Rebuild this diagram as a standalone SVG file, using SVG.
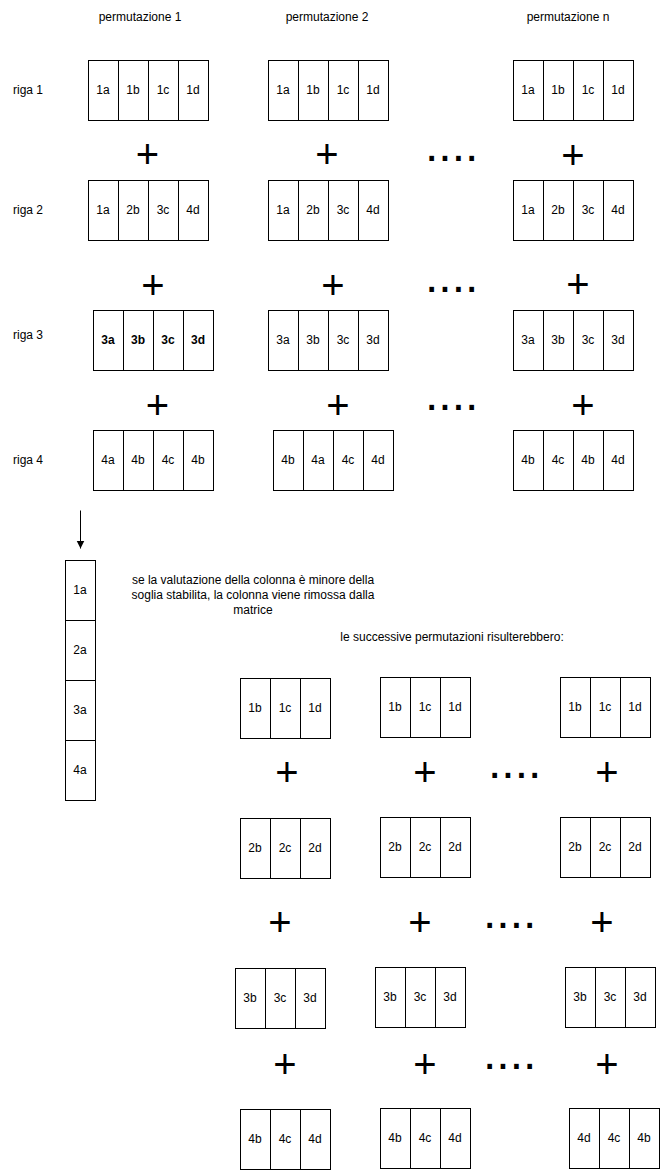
<svg xmlns="http://www.w3.org/2000/svg" width="666" height="1170" viewBox="0 0 666 1170">
<defs>
<style>
.c{fill:#fff;stroke:#000;stroke-width:1}
text{font-family:"Liberation Sans",Arial,Helvetica,sans-serif;fill:#000}
.t{font-size:12px;text-anchor:middle}
.b{font-weight:bold}
.p{font-size:40px;text-anchor:middle}
.d{font-size:48px}
.l{font-size:12px;text-anchor:middle}
</style>
<marker id="ah" markerWidth="10" markerHeight="10" refX="8" refY="4" orient="auto" markerUnits="userSpaceOnUse">
<path d="M0,0 L8,4 L0,8 Z" fill="#000"/>
</marker>
</defs>
<rect width="666" height="1170" fill="#fff"/>
<g id="headers">
<text class="l" x="140" y="21">permutazione 1</text>
<text class="l" x="327" y="21">permutazione 2</text>
<text class="l" x="568" y="21">permutazione n</text>
<text class="l" x="28" y="94">riga 1</text>
<text class="l" x="28" y="214">riga 2</text>
<text class="l" x="28" y="339">riga 3</text>
<text class="l" x="28" y="464">riga 4</text>
</g>
<g transform="translate(0.5,0.5)">
<!-- row 1 -->
<g id="r1p1"><rect class="c" x="88" y="60" width="30" height="60"/><rect class="c" x="118" y="60" width="30" height="60"/><rect class="c" x="148" y="60" width="30" height="60"/><rect class="c" x="178" y="60" width="30" height="60"/></g>
<g id="r1p2"><rect class="c" x="268" y="60" width="30" height="60"/><rect class="c" x="298" y="60" width="30" height="60"/><rect class="c" x="328" y="60" width="30" height="60"/><rect class="c" x="358" y="60" width="30" height="60"/></g>
<g id="r1pn"><rect class="c" x="513" y="60" width="30" height="60"/><rect class="c" x="543" y="60" width="30" height="60"/><rect class="c" x="573" y="60" width="30" height="60"/><rect class="c" x="603" y="60" width="30" height="60"/></g>
<!-- row 2 -->
<g id="r2p1"><rect class="c" x="88" y="180" width="30" height="60"/><rect class="c" x="118" y="180" width="30" height="60"/><rect class="c" x="148" y="180" width="30" height="60"/><rect class="c" x="178" y="180" width="30" height="60"/></g>
<g id="r2p2"><rect class="c" x="268" y="180" width="30" height="60"/><rect class="c" x="298" y="180" width="30" height="60"/><rect class="c" x="328" y="180" width="30" height="60"/><rect class="c" x="358" y="180" width="30" height="60"/></g>
<g id="r2pn"><rect class="c" x="513" y="180" width="30" height="60"/><rect class="c" x="543" y="180" width="30" height="60"/><rect class="c" x="573" y="180" width="30" height="60"/><rect class="c" x="603" y="180" width="30" height="60"/></g>
<!-- row 3 -->
<g id="r3p1"><rect class="c" x="93" y="310" width="30" height="60"/><rect class="c" x="123" y="310" width="30" height="60"/><rect class="c" x="153" y="310" width="30" height="60"/><rect class="c" x="183" y="310" width="30" height="60"/></g>
<g id="r3p2"><rect class="c" x="268" y="310" width="30" height="60"/><rect class="c" x="298" y="310" width="30" height="60"/><rect class="c" x="328" y="310" width="30" height="60"/><rect class="c" x="358" y="310" width="30" height="60"/></g>
<g id="r3pn"><rect class="c" x="513" y="310" width="30" height="60"/><rect class="c" x="543" y="310" width="30" height="60"/><rect class="c" x="573" y="310" width="30" height="60"/><rect class="c" x="603" y="310" width="30" height="60"/></g>
<!-- row 4 -->
<g id="r4p1"><rect class="c" x="93" y="430" width="30" height="60"/><rect class="c" x="123" y="430" width="30" height="60"/><rect class="c" x="153" y="430" width="30" height="60"/><rect class="c" x="183" y="430" width="30" height="60"/></g>
<g id="r4p2"><rect class="c" x="273" y="430" width="30" height="60"/><rect class="c" x="303" y="430" width="30" height="60"/><rect class="c" x="333" y="430" width="30" height="60"/><rect class="c" x="363" y="430" width="30" height="60"/></g>
<g id="r4pn"><rect class="c" x="513" y="430" width="30" height="60"/><rect class="c" x="543" y="430" width="30" height="60"/><rect class="c" x="573" y="430" width="30" height="60"/><rect class="c" x="603" y="430" width="30" height="60"/></g>
<!-- column -->
<g id="col"><rect class="c" x="65" y="560" width="30" height="60"/><rect class="c" x="65" y="620" width="30" height="60"/><rect class="c" x="65" y="680" width="30" height="60"/><rect class="c" x="65" y="740" width="30" height="60"/></g>
<!-- bottom A -->
<g id="bAp1"><rect class="c" x="240" y="678" width="30" height="60"/><rect class="c" x="270" y="678" width="30" height="60"/><rect class="c" x="300" y="678" width="30" height="60"/></g>
<g id="bAp2"><rect class="c" x="380" y="677" width="30" height="60"/><rect class="c" x="410" y="677" width="30" height="60"/><rect class="c" x="440" y="677" width="30" height="60"/></g>
<g id="bApn"><rect class="c" x="560" y="677" width="30" height="60"/><rect class="c" x="590" y="677" width="30" height="60"/><rect class="c" x="620" y="677" width="30" height="60"/></g>
<!-- bottom B -->
<g id="bBp1"><rect class="c" x="240" y="818" width="30" height="60"/><rect class="c" x="270" y="818" width="30" height="60"/><rect class="c" x="300" y="818" width="30" height="60"/></g>
<g id="bBp2"><rect class="c" x="380" y="817" width="30" height="60"/><rect class="c" x="410" y="817" width="30" height="60"/><rect class="c" x="440" y="817" width="30" height="60"/></g>
<g id="bBpn"><rect class="c" x="560" y="817" width="30" height="60"/><rect class="c" x="590" y="817" width="30" height="60"/><rect class="c" x="620" y="817" width="30" height="60"/></g>
<!-- bottom C -->
<g id="bCp1"><rect class="c" x="235" y="968" width="30" height="60"/><rect class="c" x="265" y="968" width="30" height="60"/><rect class="c" x="295" y="968" width="30" height="60"/></g>
<g id="bCp2"><rect class="c" x="375" y="967" width="30" height="60"/><rect class="c" x="405" y="967" width="30" height="60"/><rect class="c" x="435" y="967" width="30" height="60"/></g>
<g id="bCpn"><rect class="c" x="565" y="967" width="30" height="60"/><rect class="c" x="595" y="967" width="30" height="60"/><rect class="c" x="625" y="967" width="30" height="60"/></g>
<!-- bottom D -->
<g id="bDp1"><rect class="c" x="240" y="1109" width="30" height="60"/><rect class="c" x="270" y="1109" width="30" height="60"/><rect class="c" x="300" y="1109" width="30" height="60"/></g>
<g id="bDp2"><rect class="c" x="380" y="1108" width="30" height="60"/><rect class="c" x="410" y="1108" width="30" height="60"/><rect class="c" x="440" y="1108" width="30" height="60"/></g>
<g id="bDpn"><rect class="c" x="569" y="1108" width="30" height="60"/><rect class="c" x="599" y="1108" width="30" height="60"/><rect class="c" x="629" y="1108" width="30" height="60"/></g>
<g id="connectors"><line x1="80" y1="510" x2="80" y2="548" stroke="#000" stroke-width="1" marker-end="url(#ah)"/></g>
</g>
<g id="labels">
<text class="t" x="103" y="94">1a</text><text class="t" x="133" y="94">1b</text><text class="t" x="163" y="94">1c</text><text class="t" x="193" y="94">1d</text>
<text class="t" x="283" y="94">1a</text><text class="t" x="313" y="94">1b</text><text class="t" x="343" y="94">1c</text><text class="t" x="373" y="94">1d</text>
<text class="t" x="528" y="94">1a</text><text class="t" x="558" y="94">1b</text><text class="t" x="588" y="94">1c</text><text class="t" x="618" y="94">1d</text>
<text class="t" x="103" y="214">1a</text><text class="t" x="133" y="214">2b</text><text class="t" x="163" y="214">3c</text><text class="t" x="193" y="214">4d</text>
<text class="t" x="283" y="214">1a</text><text class="t" x="313" y="214">2b</text><text class="t" x="343" y="214">3c</text><text class="t" x="373" y="214">4d</text>
<text class="t" x="528" y="214">1a</text><text class="t" x="558" y="214">2b</text><text class="t" x="588" y="214">3c</text><text class="t" x="618" y="214">4d</text>
<text class="t b" x="108" y="344">3a</text><text class="t b" x="138" y="344">3b</text><text class="t b" x="168" y="344">3c</text><text class="t b" x="198" y="344">3d</text>
<text class="t" x="283" y="344">3a</text><text class="t" x="313" y="344">3b</text><text class="t" x="343" y="344">3c</text><text class="t" x="373" y="344">3d</text>
<text class="t" x="528" y="344">3a</text><text class="t" x="558" y="344">3b</text><text class="t" x="588" y="344">3c</text><text class="t" x="618" y="344">3d</text>
<text class="t" x="108" y="464">4a</text><text class="t" x="138" y="464">4b</text><text class="t" x="168" y="464">4c</text><text class="t" x="198" y="464">4b</text>
<text class="t" x="288" y="464">4b</text><text class="t" x="318" y="464">4a</text><text class="t" x="348" y="464">4c</text><text class="t" x="378" y="464">4d</text>
<text class="t" x="528" y="464">4b</text><text class="t" x="558" y="464">4c</text><text class="t" x="588" y="464">4b</text><text class="t" x="618" y="464">4d</text>
<text class="t" x="80" y="594">1a</text><text class="t" x="80" y="654">2a</text><text class="t" x="80" y="714">3a</text><text class="t" x="80" y="774">4a</text>
<text class="t" x="255" y="712">1b</text><text class="t" x="285" y="712">1c</text><text class="t" x="315" y="712">1d</text>
<text class="t" x="395" y="711">1b</text><text class="t" x="425" y="711">1c</text><text class="t" x="455" y="711">1d</text>
<text class="t" x="575" y="711">1b</text><text class="t" x="605" y="711">1c</text><text class="t" x="635" y="711">1d</text>
<text class="t" x="255" y="852">2b</text><text class="t" x="285" y="852">2c</text><text class="t" x="315" y="852">2d</text>
<text class="t" x="395" y="851">2b</text><text class="t" x="425" y="851">2c</text><text class="t" x="455" y="851">2d</text>
<text class="t" x="575" y="851">2b</text><text class="t" x="605" y="851">2c</text><text class="t" x="635" y="851">2d</text>
<text class="t" x="250" y="1002">3b</text><text class="t" x="280" y="1002">3c</text><text class="t" x="310" y="1002">3d</text>
<text class="t" x="390" y="1001">3b</text><text class="t" x="420" y="1001">3c</text><text class="t" x="450" y="1001">3d</text>
<text class="t" x="580" y="1001">3b</text><text class="t" x="610" y="1001">3c</text><text class="t" x="640" y="1001">3d</text>
<text class="t" x="255" y="1143">4b</text><text class="t" x="285" y="1143">4c</text><text class="t" x="315" y="1143">4d</text>
<text class="t" x="395" y="1142">4b</text><text class="t" x="425" y="1142">4c</text><text class="t" x="455" y="1142">4d</text>
<text class="t" x="584" y="1142">4d</text><text class="t" x="614" y="1142">4c</text><text class="t" x="644" y="1142">4b</text>
</g>
<g id="notes">
<text class="l" x="253" y="584">se la valutazione della colonna è minore della</text>
<text class="l" x="253" y="599">soglia stabilita, la colonna viene rimossa dalla</text>
<text class="l" x="253" y="614">matrice</text>
<text class="l" x="452" y="641">le successive permutazioni risulterebbero:</text>
</g>
<g id="plus">
<text class="p" x="147.5" y="168">+</text><text class="p" x="327" y="168">+</text><text class="p" x="573" y="169">+</text>
<text class="p" x="153" y="299">+</text><text class="p" x="333" y="299">+</text><text class="p" x="578" y="298">+</text>
<text class="p" x="157.5" y="419">+</text><text class="p" x="338" y="419">+</text><text class="p" x="583" y="419">+</text>
<text class="p" x="287" y="785.5">+</text><text class="p" x="425" y="785.5">+</text><text class="p" x="607" y="785.5">+</text>
<text class="p" x="280" y="936">+</text><text class="p" x="420" y="936">+</text><text class="p" x="602" y="936">+</text>
<text class="p" x="285" y="1078">+</text><text class="p" x="425" y="1078">+</text><text class="p" x="607" y="1078">+</text>
</g>
<g id="dots">
<text class="d" x="425" y="161">....</text>
<text class="d" x="425" y="292">....</text>
<text class="d" x="425" y="410">....</text>
<text class="d" x="488" y="778">....</text>
<text class="d" x="483" y="928">....</text>
<text class="d" x="483" y="1069">....</text>
</g>
</svg>
